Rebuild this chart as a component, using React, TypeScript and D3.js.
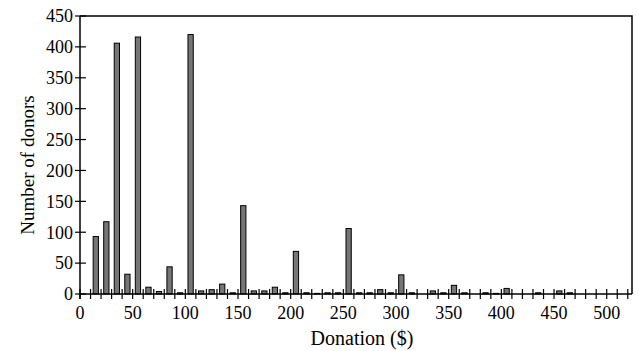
import React, {useEffect, useRef} from "react";
import * as d3 from "d3";

// donation bins ($) and how many donors gave in each
const bins = [10, 20, 30, 40, 50, 60, 70, 80, 90, 100, 110, 120, 130, 140, 150, 160, 170, 180, 190, 200,
    210, 220, 230, 240, 250, 260, 270, 280, 290, 300, 310, 320, 330, 340, 350, 360, 370, 380, 390, 400,
    410, 420, 430, 440, 450, 460];
const donors = [93, 117, 406, 32, 416, 11, 4, 44, 2, 420, 5, 7, 16, 2, 143, 5, 5, 11, 2, 69,
    2, 1, 2, 2, 106, 2, 2, 7, 2, 31, 2, 0, 5, 2, 14, 2, 0, 2, 1, 9,
    0, 0, 2, 0, 5, 2];

const xLabelTicks = [0, 50, 100, 150, 200, 250, 300, 350, 400, 450, 500];
const xMinorTicks = d3.range(0, 521, 10);
const yTicks = [0, 50, 100, 150, 200, 250, 300, 350, 400, 450];

const W = 639, H = 351;

const Histogram: React.FC = () => {
    const svgRef = useRef<SVGSVGElement | null>(null);

    useEffect(() => {
        if (!svgRef.current) return;
        const svg = d3.select(svgRef.current);
        svg.selectAll("*").remove();

        const left = 80, right = 632, top = 16, bottom = 294;
        const font = "'Liberation Serif', 'Times New Roman', serif";

        const x = d3.scaleLinear().domain([0, 524]).range([left, right]);
        const y = d3.scaleLinear().domain([0, 450]).range([bottom, top]);

        // frame (top + right)
        svg.append("path")
            .attr("d", `M${left},${top}H${right}V${bottom}`)
            .attr("fill", "none")
            .attr("stroke", "#000")
            .attr("stroke-width", 1.5);

        // bars
        svg.selectAll("rect.bar")
            .data(bins)
            .enter()
            .append("rect")
            .attr("class", "bar")
            .attr("x", d => x(d + 2.5))
            .attr("width", x(5) - x(0))
            .attr("y", (d, i) => y(donors[i]))
            .attr("height", (d, i) => Math.max(0, y(0) - y(donors[i])))
            .attr("fill", "#767676")
            .attr("stroke", "#000")
            .attr("stroke-width", 1)
            .style("display", (d, i) => donors[i] > 0 ? null : "none");

        // axes lines
        svg.append("line")
            .attr("x1", left).attr("x2", right)
            .attr("y1", bottom).attr("y2", bottom)
            .attr("stroke", "#000").attr("stroke-width", 1.5);
        svg.append("line")
            .attr("x1", left).attr("x2", left)
            .attr("y1", top).attr("y2", bottom + 5)
            .attr("stroke", "#000").attr("stroke-width", 1.5);

        // x ticks cross the axis
        svg.selectAll("line.xtick")
            .data(xMinorTicks)
            .enter()
            .append("line")
            .attr("class", "xtick")
            .attr("x1", d => x(d)).attr("x2", d => x(d))
            .attr("y1", bottom - 5).attr("y2", bottom + 5)
            .attr("stroke", "#000").attr("stroke-width", 1.2);

        svg.selectAll("text.xlab")
            .data(xLabelTicks)
            .enter()
            .append("text")
            .attr("class", "xlab")
            .attr("x", d => x(d))
            .attr("y", 319)
            .attr("text-anchor", "middle")
            .style("font-family", font)
            .style("font-size", "18px")
            .text(d => d);

        // y ticks
        svg.selectAll("line.ytick")
            .data(yTicks)
            .enter()
            .append("line")
            .attr("class", "ytick")
            .attr("x1", left - 5).attr("x2", left + 6)
            .attr("y1", d => y(d)).attr("y2", d => y(d))
            .attr("stroke", "#000").attr("stroke-width", 1.2);

        svg.selectAll("text.ylab")
            .data(yTicks)
            .enter()
            .append("text")
            .attr("class", "ylab")
            .attr("x", left - 7)
            .attr("y", d => y(d))
            .attr("dy", "0.35em")
            .attr("text-anchor", "end")
            .style("font-family", font)
            .style("font-size", "18px")
            .text(d => d);

        // axis titles
        svg.append("text")
            .attr("x", 362)
            .attr("y", 345)
            .attr("text-anchor", "middle")
            .style("font-family", font)
            .style("font-size", "20px")
            .text("Donation ($)");

        svg.append("text")
            .attr("transform", `translate(27,165) rotate(-90)`)
            .attr("dy", "0.35em")
            .attr("text-anchor", "middle")
            .style("font-family", font)
            .style("font-size", "19px")
            .text("Number of donors");
    }, []);

    return <svg ref={svgRef} width={W} height={H} style={{display: "block"}}/>;
};

export default function App() {
    return (
        <div style={{position: "absolute", left: 0, top: 0, background: "#fff"}}>
            <Histogram/>
        </div>
    );
}
